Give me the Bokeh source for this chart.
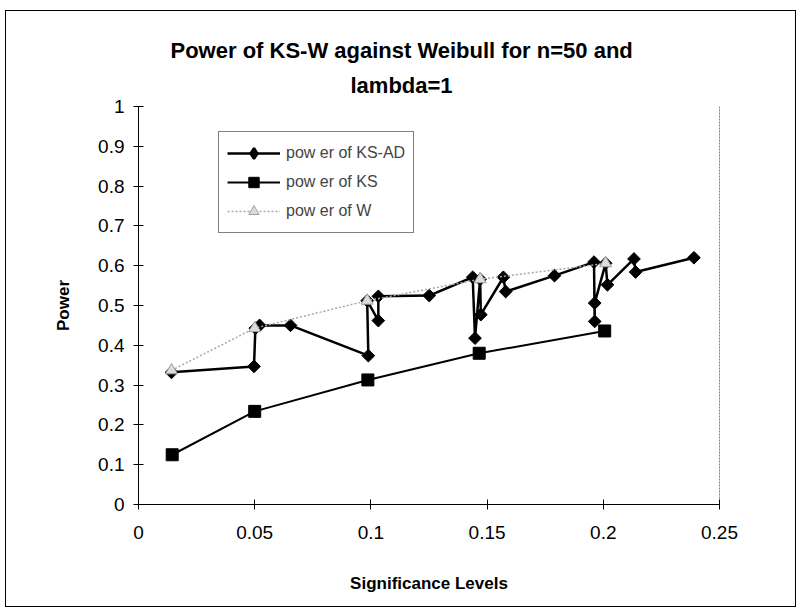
import numpy as np
from bokeh.plotting import figure
from bokeh.models import (Range1d, FixedTicker, CustomJSTickFormatter, Span,
                          Legend, LegendItem, Title)
from bokeh.embed import file_html
from bokeh.resources import INLINE

# ---- data ----
ks_ad_x = [0.0142, 0.0497, 0.0503, 0.0521, 0.0654, 0.0989, 0.0984, 0.1032, 0.1032,
           0.1251, 0.1438, 0.1448, 0.1470, 0.1473, 0.1570, 0.1580, 0.1790, 0.1960,
           0.1963, 0.1963, 0.2010, 0.2018, 0.2132, 0.2139, 0.2390]
ks_ad_y = [0.332, 0.347, 0.443, 0.450, 0.450, 0.374, 0.512, 0.462, 0.523,
           0.525, 0.571, 0.418, 0.566, 0.477, 0.571, 0.535, 0.575, 0.609,
           0.460, 0.506, 0.606, 0.552, 0.617, 0.584, 0.620]

ks_x = [0.0145, 0.0500, 0.0987, 0.1466, 0.2006]
ks_y = [0.125, 0.234, 0.313, 0.380, 0.436]

w_x = [0.0142, 0.0500, 0.0984, 0.1470, 0.2010]
w_y = [0.337, 0.443, 0.512, 0.566, 0.606]

x_ticks = [0, 0.05, 0.1, 0.15, 0.2, 0.25]
y_ticks = [0, 0.1, 0.2, 0.3, 0.4, 0.5, 0.6, 0.7, 0.8, 0.9, 1.0]

title_lines = ["Power of KS-W against Weibull for n=50 and", "lambda=1"]
series_names = ["pow er of KS-AD", "pow er of KS", "pow er of W"]

FONT = "Liberation Sans"

p = figure(width=791, height=597, output_backend="svg", toolbar_location=None,
           x_range=Range1d(0, 0.25), y_range=Range1d(0, 1),
           min_border_left=132, min_border_right=78, min_border_top=95,
           min_border_bottom=104)
p.styles = {"border": "1px solid #000000", "margin-left": "5px", "margin-top": "10px"}
p.background_fill_color = "white"
p.border_fill_color = "white"
p.outline_line_color = None
p.xgrid.grid_line_color = None
p.ygrid.grid_line_color = None

fmt = CustomJSTickFormatter(code="return tick.toFixed(2).replace(/\\.?0+$/, '');")
for ax, ticks in ((p.xaxis, x_ticks), (p.yaxis, y_ticks)):
    ax.ticker = FixedTicker(ticks=ticks)
    ax.formatter = fmt
    ax.minor_tick_line_color = None
    ax.major_tick_in = 5
    ax.major_tick_out = 5
    ax.axis_line_color = "black"
    ax.major_tick_line_color = "black"
    ax.major_label_text_font = FONT
    ax.major_label_text_font_size = "19px"
    ax.major_label_text_color = "black"
    ax.axis_label_text_font = FONT
    ax.axis_label_text_font_size = "17px"
    ax.axis_label_text_font_style = "bold"
    ax.axis_label_text_color = "black"

p.xaxis.axis_label = "Significance Levels"
p.yaxis.axis_label = "Power"
p.xaxis.major_label_standoff = 16
p.yaxis.major_label_standoff = 9
p.xaxis.axis_label_standoff = 32
p.yaxis.axis_label_standoff = 22

p.add_layout(Span(location=0.25, dimension="height", line_color="black",
                  line_width=1, line_dash="2 1"))

# KS
l_ks = p.line(ks_x, ks_y, line_color="black", line_width=2)
s_ks = p.scatter(ks_x, ks_y, marker="square", size=12, fill_color="black",
                 line_color="black")
# KS-AD
l_ad = p.line(ks_ad_x, ks_ad_y, line_color="black", line_width=2.5)
s_ad = p.scatter(ks_ad_x, ks_ad_y, marker="square", angle=np.pi / 4, size=9,
                 fill_color="black", line_color="black")
# legend-only diamond (legend markers are never rotated); NaN => nothing drawn in plot
leg_ad = p.scatter(x=np.array([np.nan]), y=np.array([np.nan]), marker="diamond",
                   fill_color="black", line_color="black", line_width=2.5)
# W
l_w = p.line(w_x, w_y, line_color="#a8a8a8", line_width=1.5, line_dash="2 2")
s_w = p.scatter(w_x, w_y, marker="triangle", size=12, fill_color="#dcdcdc",
                line_color="#a0a0a0")

legend = Legend(items=[
    LegendItem(label=series_names[0], renderers=[l_ad, leg_ad]),
    LegendItem(label=series_names[1], renderers=[l_ks, s_ks]),
    LegendItem(label=series_names[2], renderers=[l_w, s_w]),
], location=(80, 271))
legend.glyph_width = 53
legend.glyph_height = 26
legend.label_height = 26
legend.spacing = 3
legend.padding = 8
legend.margin = 0
legend.label_standoff = 6
legend.label_text_font = FONT
legend.label_text_font_size = "16px"
legend.border_line_color = "black"
legend.border_line_width = 1
legend.background_fill_alpha = 1
p.add_layout(legend, "center")

# title: second line nearest the plot, first line above it
p.add_layout(Title(text=title_lines[1], align="left", offset=212, standoff=17,
                   text_font=FONT, text_font_size="22px", text_font_style="bold",
                   text_color="black"), "above")
p.add_layout(Title(text=title_lines[0], align="left", offset=32, standoff=0,
                   text_font=FONT, text_font_size="22px", text_font_style="bold",
                   text_color="black"), "above")

open("out.html", "w").write(file_html(p, INLINE))
